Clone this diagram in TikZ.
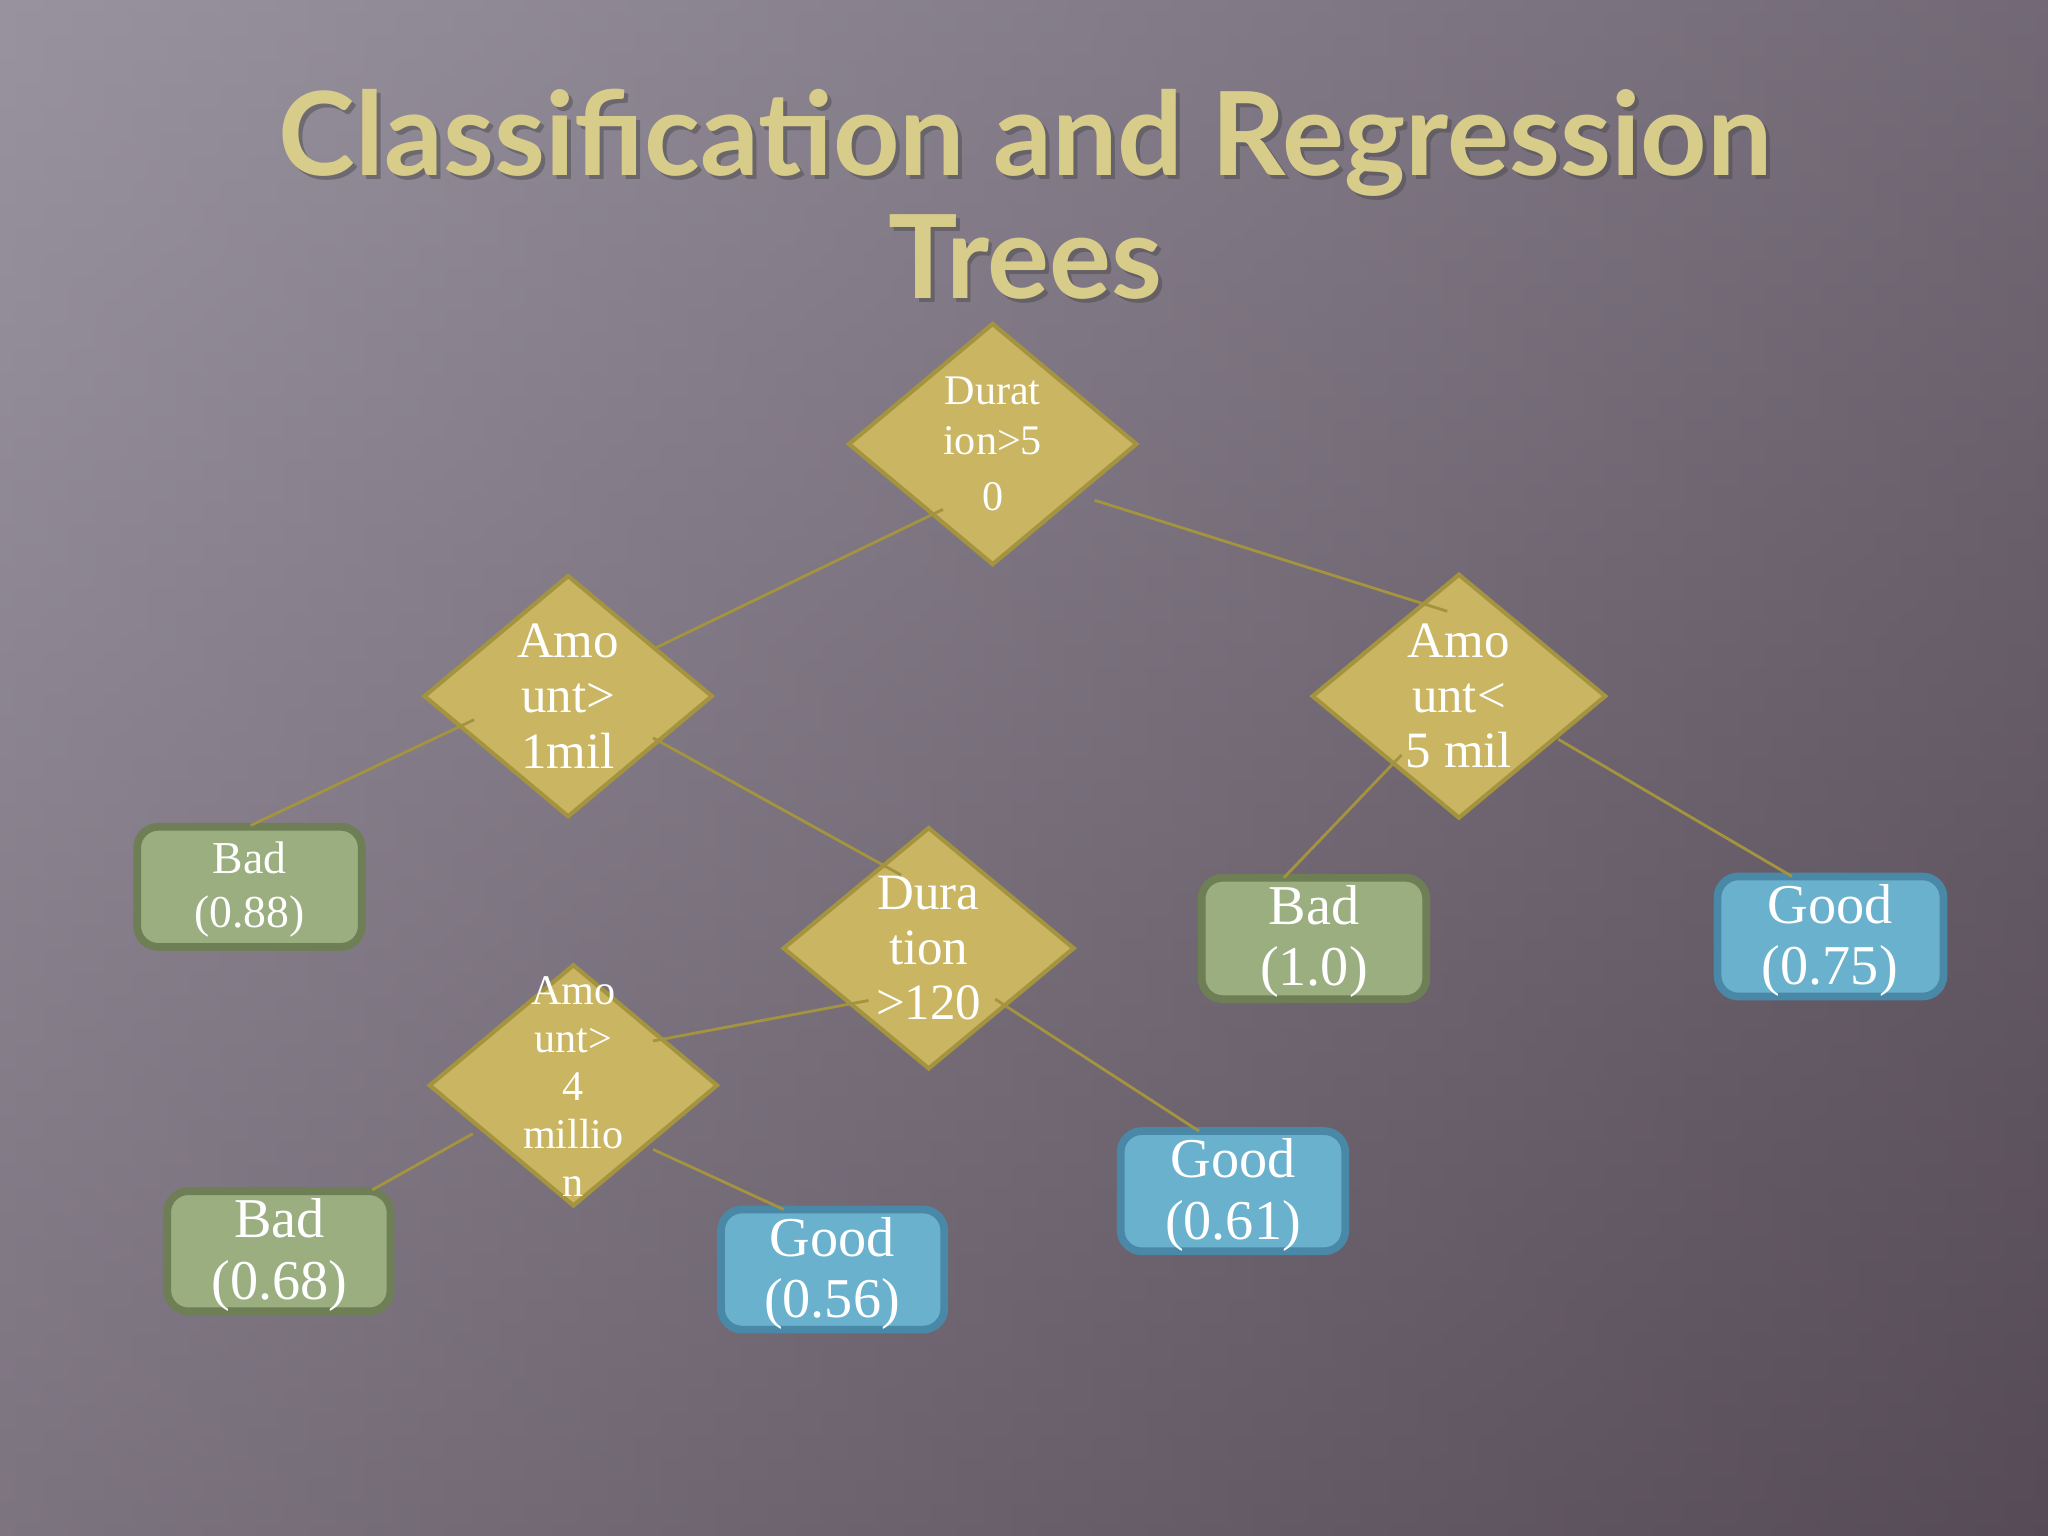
\documentclass[tikz,border=0pt]{standalone}
\usepackage{fontspec}
\setmainfont{Liberation Serif}
\newfontfamily\titlefont{Lato}
\usetikzlibrary{shapes.geometric}
\definecolor{gold}{HTML}{C9B562}
\definecolor{goldd}{HTML}{A4933F}
\definecolor{grn}{HTML}{9AAE80}
\definecolor{grnd}{HTML}{6E7E55}
\definecolor{blu}{HTML}{69B1CD}
\definecolor{blud}{HTML}{4A88A8}
\definecolor{ttl}{HTML}{D8CC8A}
\definecolor{bgl}{HTML}{A29CA8}
\definecolor{bgr}{HTML}{5C505C}
\definecolor{bgt}{HTML}{8E8896}
\definecolor{bgb}{HTML}{4E444E}
\tikzset{
 dia/.style={draw=goldd,line width=1.2pt,fill=gold},
 box/.style={draw=#1,line width=2.2pt,rounded corners=6pt},
 lbl/.style={text=white,align=center,font=\fontsize{14.5}{15.7}\selectfont},
 big/.style={text=white,align=center,font=\fontsize{16}{17.5}\selectfont},
 con/.style={draw=goldd,line width=0.8pt}
}
\begin{document}
\begin{tikzpicture}[x=0.013061cm,y=-0.013061cm]
\useasboundingbox (0,0) rectangle (1568,1176);
\shade[left color=bgl,right color=bgr] (0,0) rectangle (1568,1176);
\shade[top color=bgt,bottom color=bgb,opacity=0.45] (0,0) rectangle (1568,1176);
\node[text=black!70,opacity=0.5,font=\titlefont\bfseries\fontsize{33}{35}\selectfont,align=center] at (788,152) {Classification and Regression\\Trees};
\node[text=ttl,font=\titlefont\bfseries\fontsize{33}{35}\selectfont,align=center] (title) at (785,149) {Classification and Regression\\Trees};
% diamonds
\fill[dia] (650,340) -- (760,248) -- (870,340) -- (760,432) -- cycle;
\fill[dia] (325,533) -- (435,441) -- (545,533) -- (435,625) -- cycle;
\fill[dia] (1005,533) -- (1117,440) -- (1229,533) -- (1117,626) -- cycle;
\fill[dia] (600,726) -- (711,634) -- (822,726) -- (711,818) -- cycle;
\fill[dia] (329,831) -- (439,739) -- (549,831) -- (439,923) -- cycle;
\node[lbl,font=\fontsize{12}{14}\selectfont] (d1) at (760,340) {Durat\\ion>5\\[2pt]0};
\node[lbl] (d2) at (435,533) {Amo\\unt>\\1mil};
\node[lbl] (d3) at (1117,533) {Amo\\unt<\\5 mil};
\node[lbl] (d4) at (711,726) {Dura\\tion\\>120};
\node[lbl,font=\fontsize{12}{13.7}\selectfont] (d5) at (439,832) {Amo\\unt>\\4\\millio\\n};
% boxes
\draw[box=grnd,fill=grn] (105,633) rectangle (277,725);
\draw[box=grnd,fill=grn] (920,672) rectangle (1092,765);
\draw[box=blud,fill=blu] (1315,671) rectangle (1488,763);
\draw[box=blud,fill=blu] (858,866) rectangle (1030,958);
\draw[box=grnd,fill=grn] (128,912) rectangle (299,1004);
\draw[box=blud,fill=blu] (552,926) rectangle (723,1018);
\node[lbl,font=\fontsize{13}{15.5}\selectfont] (b1) at (191,681) {Bad\\(0.88)};
\node[big] (b2) at (1006,721) {Bad\\(1.0)};
\node[big] (g1) at (1401,720) {Good\\(0.75)};
\node[big] (g2) at (944,915) {Good\\(0.61)};
\node[big] (b3) at (214,961) {Bad\\(0.68)};
\node[big] (g3) at (637,975) {Good\\(0.56)};
% connector end points
\coordinate (a1) at (722,390); \coordinate (a2) at (500,497);
\coordinate (c1) at (838,383); \coordinate (c2) at (1108,468);
\coordinate (e1) at (363,551); \coordinate (e2) at (192,632);
\coordinate (f1) at (500,565); \coordinate (f2) at (690,670);
\coordinate (h1) at (1073,578); \coordinate (h2) at (983,672);
\coordinate (i1) at (1193,566); \coordinate (i2) at (1372,671);
\coordinate (j1) at (665,766); \coordinate (j2) at (500,797);
\coordinate (k1) at (762,765); \coordinate (k2) at (918,866);
\coordinate (m1) at (362,868); \coordinate (m2) at (285,911);
\coordinate (n1) at (500,880); \coordinate (n2) at (600,926);
\draw[con] (a1) -- (a2); \draw[con] (c1) -- (c2); \draw[con] (e1) -- (e2);
\draw[con] (f1) -- (f2); \draw[con] (h1) -- (h2); \draw[con] (i1) -- (i2);
\draw[con] (j1) -- (j2); \draw[con] (k1) -- (k2); \draw[con] (m1) -- (m2);
\draw[con] (n1) -- (n2);
\end{tikzpicture}
\end{document}
